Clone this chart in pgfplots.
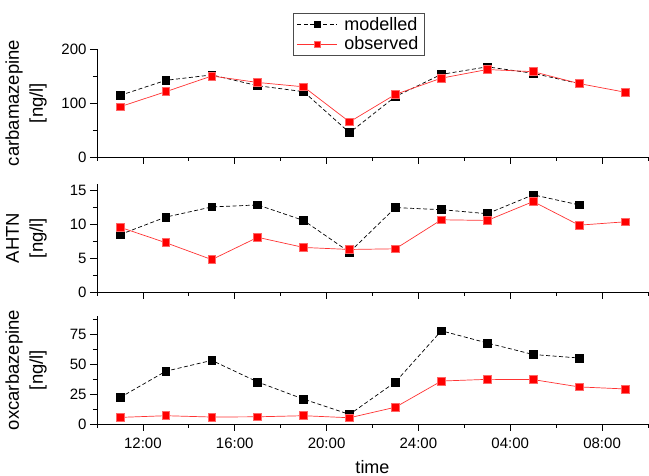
\documentclass[border=0pt]{standalone}
\usepackage{fontspec}
\setmainfont{Liberation Sans}
\usepackage{pgfplots}
\usepackage{pgfplotstable}
\pgfplotsset{compat=1.18}

% time in hours since midnight of day 1 (25 = 01:00 next day)
\pgfplotstableread{
t   carbM  carbO  ahtnM  ahtnO  oxcM  oxcO
11  114    93     8.5    9.6    22.0  5.5
13  142    121    11.1   7.3    44.0  6.9
15  152    150    12.6   4.8    53.0  5.8
17  132    138    12.9   8.1    35.0  6.0
19  121    130    10.6   6.6    20.7  6.9
21  45     65     5.9    6.3    8.0   5.2
23  112    116    12.5   6.4    35.0  14.0
25  153    146    12.2   10.7   77.7  35.8
27  167    162    11.6   10.6   67.5  37.2
29  155    158    14.4   13.4   57.9  37.0
31  136    136    12.9   9.9    55.0  30.9
33  nan    120    nan    10.4   nan   29.2
}\conc

\pgfplotsset{
  panel/.style={
    scale only axis, width=551pt, height=108pt,
    xmin=10, xmax=34,
    axis lines=left, axis line style={-, line width=0.8pt},
    tick align=outside,
    xtick={12,16,...,32}, minor xtick={10,14,...,34},
    xticklabels={},
    major tick length=7pt, minor tick length=4pt,
    tick style={line width=0.8pt, black},
    tick label style={font=\fontsize{15}{17}\selectfont},
    xticklabel style={yshift=-3pt},
    /pgf/number format/assume math mode=true,
    ylabel style={at={(axis description cs:-0.085,0.5)}, anchor=south,
      align=center, font=\fontsize{18.5}{24}\selectfont},
    clip=false,
    unbounded coords=jump,
  },
  modelled/.style={black, dash pattern=on 4pt off 2.5pt, line width=0.7pt,
    mark=square*, mark size=3.9pt, mark options={solid, fill=black}},
  observed/.style={red!80!white, line width=0.7pt,
    mark=square*, mark size=3.9pt, mark options={solid, fill=red, draw=red!60!white}},
}

\begin{document}
\begin{tikzpicture}
\begin{axis}[panel, at={(0,0)}, anchor=north west,
    ymin=0, ymax=200, ytick={0,100,200}, minor ytick={50,150},
    ylabel={carbamazepine\\{[ng/l]}},
    legend style={at={(0.475,1.333)}, anchor=north,
      font=\fontsize{18}{21}\selectfont, draw=black!70, line width=0.5pt,
      cells={anchor=west}, row sep=1pt, inner xsep=4pt,
      /tikz/every odd column/.append style={column sep=5pt}},
    legend image code/.code={\draw[mark repeat=2,mark phase=2,#1,mark size=3pt]
      plot coordinates {(0cm,0cm) (0.7cm,0cm) (1.4cm,0cm)};},
  ]
\addplot[modelled] table[x=t, y=carbM] {\conc};
\addlegendentry{modelled}
\addplot[observed] table[x=t, y=carbO] {\conc};
\addlegendentry{observed}
\end{axis}

\begin{axis}[panel, at={(0,-135pt)}, anchor=north west,
    ymin=0, ymax=16, ytick={0,5,10,15}, minor ytick={2.5,7.5,12.5},
    ylabel={AHTN\\{[ng/l]}},
  ]
\addplot[modelled] table[x=t, y=ahtnM] {\conc};
\addplot[observed] table[x=t, y=ahtnO] {\conc};
\end{axis}

\begin{axis}[panel, at={(0,-267pt)}, anchor=north west,
    ymin=0, ymax=90, ytick={0,25,50,75}, minor ytick={12.5,37.5,62.5,87.5},
    xticklabels={12:00,16:00,20:00,24:00,04:00,08:00},
    xlabel={time},
    xlabel style={font=\fontsize{18}{21}\selectfont, yshift=-5pt},
    ylabel={oxcarbazepine\\{[ng/l]}},
  ]
\addplot[modelled] table[x=t, y=oxcM] {\conc};
\addplot[observed] table[x=t, y=oxcO] {\conc};
\end{axis}

\pgfresetboundingbox
\path[use as bounding box] (-97pt,49pt) rectangle (552pt,-427pt);
\end{tikzpicture}
\end{document}
